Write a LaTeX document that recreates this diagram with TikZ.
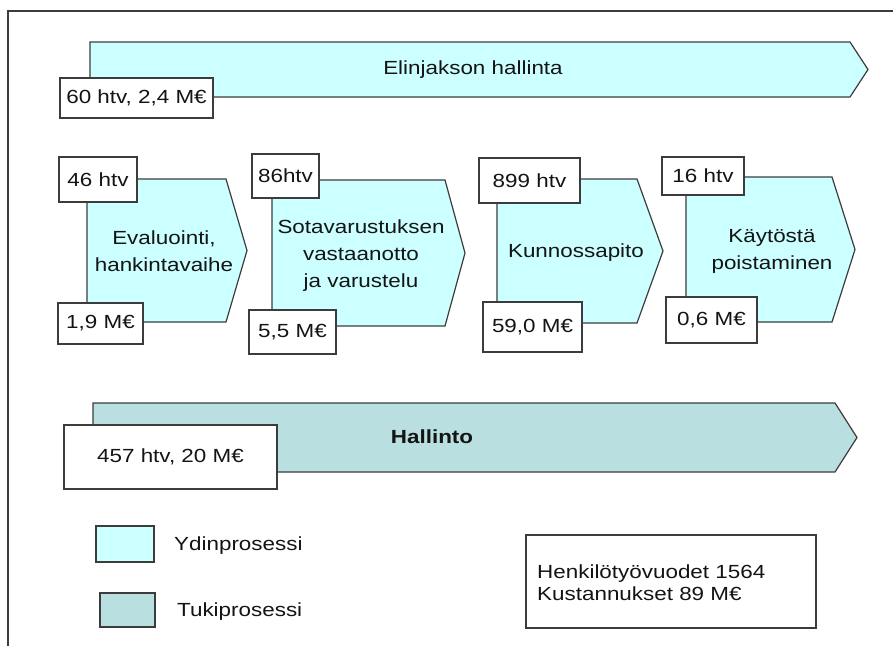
\documentclass[tikz,border=0pt]{standalone}
\usepackage{fontspec}
\setmainfont[FakeStretch=1.18]{Liberation Sans}
\definecolor{corefill}{RGB}{204,255,255}
\definecolor{supportfill}{RGB}{185,223,225}
\definecolor{linec}{RGB}{60,60,60}
\definecolor{txt}{RGB}{20,20,20}
\tikzset{
  core/.style={draw=linec, fill=corefill, line width=1.2pt, line join=miter},
  support/.style={draw=linec, fill=supportfill, line width=1.2pt, line join=miter},
  numbox/.style={draw=linec, fill=white, line width=1.3pt, inner sep=0pt, text=txt},
  label/.style={text=txt, align=center, inner sep=0pt},
}
\begin{document}
\begin{tikzpicture}[x=1pt, y=-1pt, font=\fontsize{19}{27}\selectfont]
\useasboundingbox (0,0) rectangle (893,646);
\fill[white] (0,0) rectangle (893,646);

% outer frame (open to the right and bottom)
\draw[linec, line width=1.5pt] (8,646) -- (8,11) -- (893,11);

% life-cycle management band
\draw[core] (90,42) -- (850,42) -- (868,69.5) -- (850,97) -- (90,97) -- cycle;
\node[label] (life) at (473,70) {Elinjakson hallinta};
\node[numbox, minimum width=153, minimum height=40] (lifebox) at (136.5,98) {60 htv, 2,4 M€};

% process phases
\draw[core] (87,179) -- (226,179) -- (247,250.5) -- (226,322) -- (87,322) -- cycle;
\node[label] (p1) at (164,251) {Evaluointi,\\hankintavaihe};
\node[numbox, minimum width=78, minimum height=45] (p1t) at (98,179.5) {46 htv};
\node[numbox, minimum width=85, minimum height=41] (p1b) at (100.5,323.5) {1,9 M€};

\draw[core] (272,180) -- (445,180) -- (465,253) -- (445,326) -- (272,326) -- cycle;
\node[label] (p2) at (361,256) {Sotavarustuksen\\vastaanotto\\ja varustelu};
\node[numbox, minimum width=67, minimum height=44] (p2t) at (285.5,176) {86htv};
\node[numbox, minimum width=87, minimum height=44] (p2b) at (292.5,332) {5,5 M€};

\draw[core] (497,179) -- (637,179) -- (663,251) -- (637,323) -- (497,323) -- cycle;
\node[label] (p3) at (576,253) {Kunnossapito};
\node[numbox, minimum width=101, minimum height=45] (p3t) at (529.5,180.5) {899 htv};
\node[numbox, minimum width=99, minimum height=50] (p3b) at (532.5,327) {59,0 M€};

\draw[core] (686,177) -- (832,177) -- (855,249.5) -- (832,322) -- (686,322) -- cycle;
\node[label] (p4) at (772,251) {Käytöstä\\poistaminen};
\node[numbox, minimum width=82, minimum height=38] (p4t) at (703,176) {16 htv};
\node[numbox, minimum width=91, minimum height=46] (p4b) at (711.5,320) {0,6 M€};

% administration band
\draw[support] (93,403) -- (835,403) -- (857,437.5) -- (835,472) -- (93,472) -- cycle;
\node[label, font=\fontsize{19}{27}\selectfont\bfseries] (adm) at (432,437) {Hallinto};
\node[numbox, minimum width=213, minimum height=64] (admbox) at (170.5,457) {457 htv, 20 M€};

% legend
\node[draw=linec, fill=corefill, line width=1.3pt, minimum width=58, minimum height=36, inner sep=0pt] (lg1) at (125,544) {};
\node[label, anchor=west] (lg1t) at (174,546) {Ydinprosessi};
\node[draw=linec, fill=supportfill, line width=1.3pt, minimum width=55, minimum height=34, inner sep=0pt] (lg2) at (127.5,610) {};
\node[label, anchor=west] (lg2t) at (177,612) {Tukiprosessi};

% totals
\node[draw=linec, fill=white, line width=1.3pt, minimum width=290, minimum height=93, inner sep=0pt] (tot) at (671,581.5) {};
\node[label, anchor=west, align=left, font=\fontsize{19}{22}\selectfont] (tott) at (537,583) {Henkilötyövuodet 1564\\Kustannukset 89 M€};
\end{tikzpicture}
\end{document}
